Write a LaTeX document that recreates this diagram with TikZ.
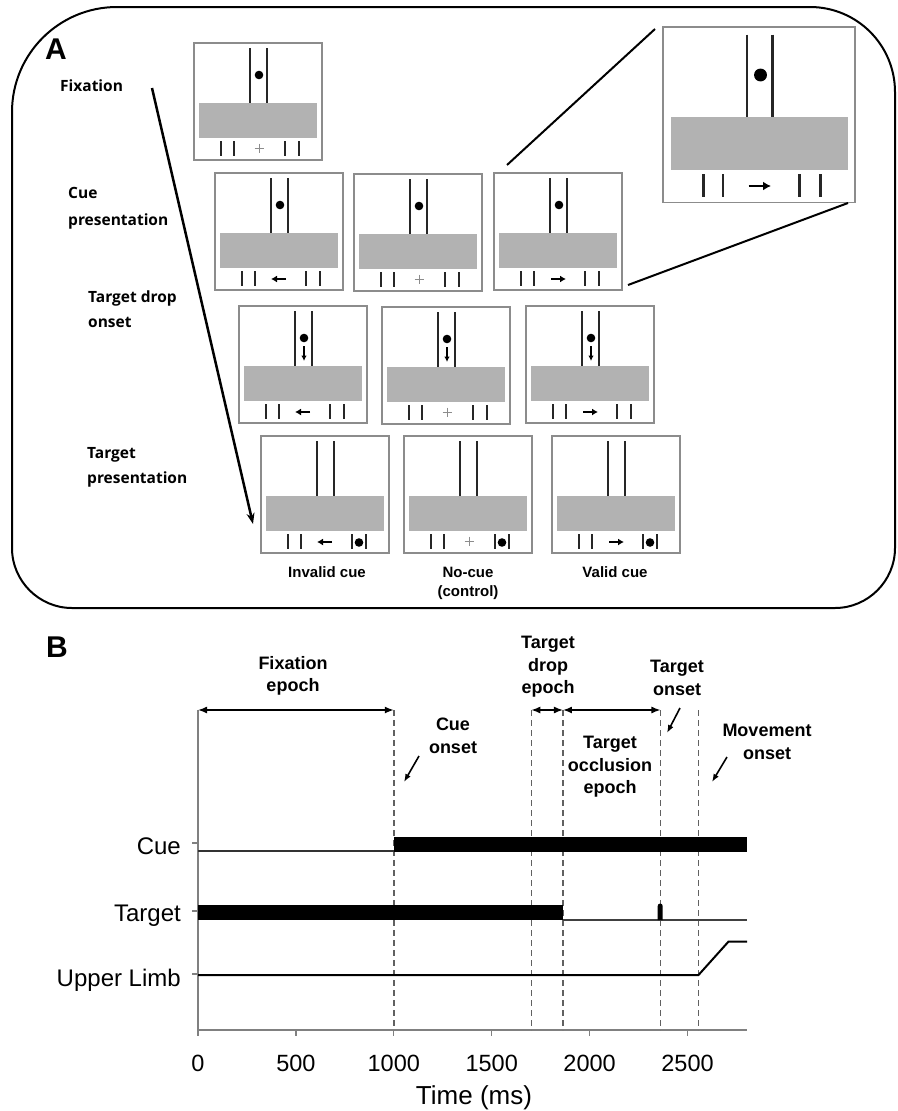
\documentclass[tikz,border=0pt]{standalone}
\usepackage{fontspec}
\setmainfont{Liberation Sans}
\newfontfamily\osans{Open Sans}
\usetikzlibrary{arrows.meta}

\newcommand{\symL}{\draw[symarrow] (71,106) -- (56,106);}
\newcommand{\symR}{\draw[symarrow] (57,106) -- (72,106);}
\newcommand{\symP}{\draw[plusc] (60.5,105) -- (69.5,105) (65,100.5) -- (65,109.5);}
\newcommand{\dotT}{\fill (65,32) circle (4.3);}
\newcommand{\dotD}{\fill (65,32) circle (4.3); \draw[droparrow] (65,40) -- (65,55);}
\newcommand{\dotB}{\fill (98,106.5) circle (4.3);}

\newcommand{\stim}[6]{%
\begin{scope}[shift={(#2,#3)},#4]
 \fill[barfill] (5,60) rectangle (123,95);
 \draw[panelbox] (0,0) rectangle (128,117);
 \coordinate (#1-nw) at (0,0);
 \coordinate (#1-ne) at (128,0);
 \coordinate (#1-se) at (128,117);
 \coordinate (#1-sw) at (0,117);
 \draw[chan] (56,5) -- (56,60) (73,5) -- (73,60);
 \draw[chan] (27,98) -- (27,113) (40,98) -- (40,113) (91,98) -- (91,113) (105,98) -- (105,113);
 #5 #6
\end{scope}}

\begin{document}
\begin{tikzpicture}[x=1pt,y=-1pt,
  panelbox/.style={draw=black!45, line width=1.3pt},
  barfill/.style={fill=black!30},
  chan/.style={draw=black!85, line width=1.8pt},
  symarrow/.style={draw=black, line width=1.6pt, -{Latex[length=6pt,width=7pt]}},
  plusc/.style={draw=black!45, line width=0.9pt},
  droparrow/.style={draw=black, line width=1.6pt, -{Latex[length=5.5pt,width=5.5pt]}},
  lbla/.style={font=\osans\bfseries\fontsize{15.5}{19}\selectfont, anchor=base west, inner sep=0pt},
  capt/.style={font=\bfseries\fontsize{15}{19}\selectfont, align=center, inner sep=0pt},
  blbl/.style={font=\bfseries\fontsize{18}{22.5}\selectfont, align=center, inner sep=0pt},
  ylbl/.style={font=\fontsize{24}{28}\selectfont, anchor=base east, inner sep=0pt},
  tlbl/.style={font=\fontsize{23.5}{28}\selectfont, anchor=base, inner sep=0pt},
  letter/.style={font=\bfseries\fontsize{30}{34}\selectfont, inner sep=0pt},
  axisc/.style={draw=black!50, line width=1.2pt},
  dashl/.style={draw=black!62, line width=1.4pt, dash pattern=on 6pt off 4pt},
  dbl/.style={line width=1.5pt, {Latex[length=9pt,width=7pt]}-{Latex[length=9pt,width=7pt]}},
  ptr/.style={line width=1.6pt, -{Latex[length=8pt,width=6pt]}},
  frame/.style={draw=black, line width=2pt},
  zoomline/.style={draw=black, line width=2pt}
]
\useasboundingbox (0,0) rectangle (897,1111);

% ---------- Panel A frame ----------
\draw[frame] (12,112) .. controls (12,54) and (59,7) .. (117,7)
  -- (810,7) .. controls (857,7) and (895,45) .. (895,92)
  -- (895,548) .. controls (895,581) and (868,608) .. (835,608)
  -- (72,608) .. controls (39,608) and (12,581) .. (12,548) -- cycle;

\node[letter] (labA) at (56,49) {A};

% stage labels
\node[lbla] (lfix) at (60,91) {Fixation};
\node[lbla] (lcue1) at (68,198) {Cue};
\node[lbla] (lcue2) at (68,225) {presentation};
\node[lbla] (ldrop1) at (88,302) {Target drop};
\node[lbla] (ldrop2) at (88,327) {onset};
\node[lbla] (ltgt1) at (87,458) {Target};
\node[lbla] (ltgt2) at (87,483) {presentation};

\coordinate (tstart) at (152,88);
\coordinate (tend) at (253,524);
\draw[line width=2.5pt, -{Stealth[length=11pt,width=8pt]}] (tstart) -- (tend);

% stimulus panels
\stim{f}{194}{43}{}{\symP}{\dotT}
\stim{c1}{215}{173}{}{\symL}{\dotT}
\stim{c2}{354}{174}{}{\symP}{\dotT}
\stim{c3}{494}{173}{}{\symR}{\dotT}
\stim{d1}{239}{306}{}{\symL}{\dotD}
\stim{d2}{382}{307}{}{\symP}{\dotD}
\stim{d3}{526}{306}{}{\symR}{\dotD}
\stim{p1}{261}{436}{}{\symL}{\dotB}
\stim{p2}{404}{436}{}{\symP}{\dotB}
\stim{p3}{552}{436}{}{\symR}{\dotB}
\stim{big}{663}{27}{scale=1.5, chan/.append style={line width=2.5pt}, symarrow/.append style={line width=2.4pt, -{Latex[length=8pt,width=9pt]}}}{\symR}{\fill (65,32) circle (4.3);}

% zoom lines
\coordinate (z1a) at (507,165);
\coordinate (z1b) at (655,29);
\coordinate (z2a) at (628,285);
\coordinate (z2b) at (848,203);
\draw[zoomline] (z1a) -- (z1b);
\draw[zoomline] (z2a) -- (z2b);

% captions
\node[capt] (capinv) at (327,572) {Invalid cue};
\node[capt] (capno) at (468,583.5) {No-cue\\(control)};
\node[capt] (capval) at (615,572) {Valid cue};

% ---------- Panel B ----------
\node[letter] (labB) at (57,647) {B};

% axes
\coordinate (o) at (198,1030);
\coordinate (ytop) at (198,710);
\coordinate (xend) at (747.2,1030);
\draw[axisc] (ytop) -- (o) -- (xend);
\foreach \t/\lab in {0/0,500/500,1000/1000,1500/1500,2000/2000,2500/2500}{
  \draw[axisc] ({198+0.1958*\t},1030) -- ({198+0.1958*\t},1036);
  \node[tlbl] (tick\t) at ({198+0.1958*\t},1071) {\lab};
}
\foreach \y in {843,911,974}{ \draw[axisc] (192,\y) -- (198,\y); }

\node[ylbl] (ycue) at (181,854) {Cue};
\node[ylbl] (ytgt) at (181,921) {Target};
\node[ylbl] (ylimb) at (181,986) {Upper Limb};
\node[font=\fontsize{26}{30}\selectfont, anchor=base, inner sep=0pt] (xlab) at (474,1104) {Time (ms)};

% dashed event lines
\foreach \t/\n in {1000/e1,1702/e2,1864/e3,2362/e4,2556/e5}{
  \coordinate (\n t) at ({198+0.1958*\t},710);
  \coordinate (\n b) at ({198+0.1958*\t},1030);
  \draw[dashl] (\n t) -- (\n b);
}

% signals
\draw[line width=1.5pt, black!80] (198,851) -- (393.8,851);
\fill[black] (393.8,837) rectangle (747.2,852);
\fill[black] (198,905) rectangle (563,920);
\draw[line width=1.5pt, black!75] (563,920) -- (747.2,920);
\fill[black] (657.7,920) -- (657.7,906) arc[start angle=180,end angle=0,x radius=2.5,y radius=-2.5] -- (662.7,920) -- cycle;
\draw[line width=2pt, black] (198,975) -- (698.5,975) -- (728.4,941.7) -- (747.2,941.7);

% epoch arrows
\coordinate (a0) at (198,710);
\draw[dbl] (a0) -- (e1t);
\draw[dbl] (e2t) -- (e3t);
\draw[dbl] (e3t) -- (e4t);

% labels
\node[blbl] (bfix) at (293,676) {Fixation\\epoch};
\node[blbl] (bcue) at (453,736) {Cue\\onset};
\node[blbl] (bdrop) at (548,667) {Target\\drop\\epoch};
\node[blbl] (bton) at (677,678) {Target\\onset};
\node[blbl] (bocc) at (610,767) {Target\\occlusion\\epoch};
\node[blbl] (bmov) at (767,742) {Movement\\onset};

\coordinate (p1a) at (419,756); \coordinate (p1b) at (404,782);
\coordinate (p2a) at (680,708); \coordinate (p2b) at (667,733);
\coordinate (p3a) at (727,757); \coordinate (p3b) at (712,782);
\draw[ptr] (p1a) -- (p1b);
\draw[ptr] (p2a) -- (p2b);
\draw[ptr] (p3a) -- (p3b);
\end{tikzpicture}
\end{document}
